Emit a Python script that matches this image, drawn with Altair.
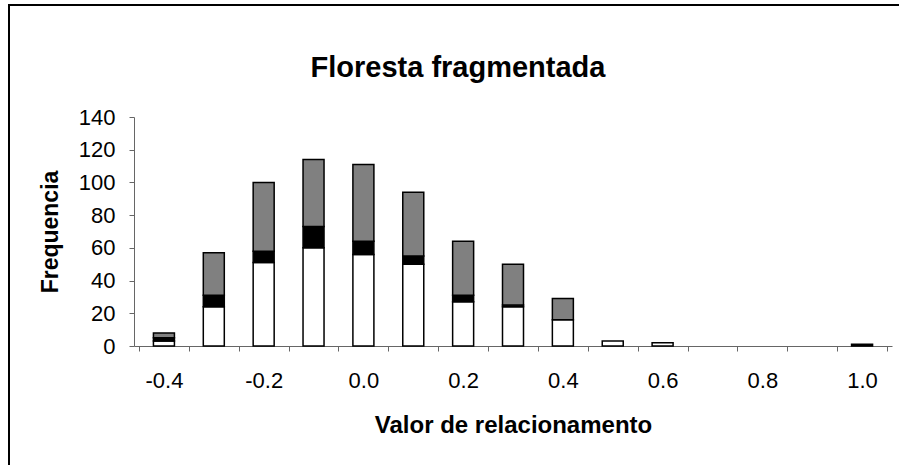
import altair as alt
import pandas as pd

# ---- data ----
categories = [-0.4, -0.3, -0.2, -0.1, 0.0, 0.1, 0.2, 0.3, 0.4, 0.5, 0.6, 0.7, 0.8, 0.9, 1.0]
white_vals = [3, 24, 51, 60, 56, 50, 27, 24, 16, 3, 2, 0, 0, 0, 0]
black_vals = [2, 7, 7, 13, 8, 5, 4, 1, 0, 0, 0, 0, 0, 0, 1]
gray_vals = [3, 26, 42, 41, 47, 39, 33, 25, 13, 0, 0, 0, 0, 0, 0]
segments = ["branco", "preto", "cinza"]
seg_colors = ["#ffffff", "#000000", "#808080"]
tick_bounds = [round(-0.45 + 0.1 * i, 2) for i in range(16)]
label_vals = [-0.4, -0.2, 0.0, 0.2, 0.4, 0.6, 0.8, 1.0]
y_ticks = [0, 20, 40, 60, 80, 100, 120, 140]
title_text = "Floresta fragmentada"

rows = []
for seg_i, (seg, vals) in enumerate(zip(segments, [white_vals, black_vals, gray_vals])):
    for c, v in zip(categories, vals):
        if v > 0:
            rows.append({"valor": c, "freq": v, "seg": seg, "ord": seg_i})
df = pd.DataFrame(rows)

FONT = "Liberation Sans"
W, H = 758, 229
LEFT, TOP = 134, 117

xscale = alt.Scale(domain=[-0.45, 1.05], nice=False, zero=False)
yscale = alt.Scale(domain=[0, 140], nice=False)

bars = alt.Chart(df).mark_bar(size=21, stroke="black", strokeWidth=1.5).encode(
    x=alt.X("valor:Q", scale=xscale,
            axis=alt.Axis(values=tick_bounds, labels=False, title=None, orient="bottom",
                          tickSize=5, tickColor="#666666", domainColor="#666666",
                          grid=False, tickWidth=1)),
    y=alt.Y("freq:Q", stack="zero", scale=yscale,
            axis=alt.Axis(values=y_ticks, title="Frequencia", grid=False,
                          tickSize=5, tickColor="#666666", domainColor="#666666",
                          labelFont=FONT, labelFontSize=22, labelColor="black",
                          labelPadding=14,
                          titleFont=FONT, titleFontSize=23, titleFontWeight="bold",
                          titleColor="black", titleAngle=-90, titleX=-84, titleY=114.5,
                          titleAlign="center", titleBaseline="middle")),
    color=alt.Color("seg:N", scale=alt.Scale(domain=segments, range=seg_colors), legend=None),
    order=alt.Order("ord:Q", sort="ascending"),
)

labels_layer = alt.Chart(df).mark_bar(opacity=0).encode(
    x=alt.X("valor:Q", scale=xscale,
            axis=alt.Axis(values=label_vals, orient="bottom", ticks=False, tickSize=0,
                          domain=False, grid=False,
                          labelExpr="replace(format(datum.value, '.1f'), '\u2212', '-')",
                          labelFont=FONT, labelFontSize=22, labelColor="black",
                          labelPadding=24,
                          title="Valor de relacionamento", titleFont=FONT, titleFontSize=24,
                          titleFontWeight="bold", titleColor="black",
                          titleX=379, titleY=79, titleAlign="center", titleBaseline="middle")),
)

frame = alt.Chart(pd.DataFrame({"a": [0]})).mark_rect(
    fill=None, stroke="black", strokeWidth=2
).encode(
    x=alt.value(9 - LEFT), x2=alt.value(905 - LEFT),
    y=alt.value(5 - TOP), y2=alt.value(480 - TOP),
)

title = alt.Chart(pd.DataFrame({"t": [title_text]})).mark_text(
    font=FONT, fontSize=29, fontWeight="bold", color="black",
    align="center", baseline="alphabetic"
).encode(
    text="t:N", x=alt.value(458 - LEFT), y=alt.value(77 - TOP),
)

chart = alt.layer(frame, title, bars, labels_layer).resolve_axis(x="independent").properties(
    width=W, height=H,
    autosize=alt.AutoSizeParams(type="none"),
    padding={"left": LEFT, "top": TOP, "right": 899 - LEFT - W, "bottom": 465 - TOP - H},
).configure(background="white", view=alt.ViewConfig(stroke=None))

chart.save("out.html", embed_options={"renderer": "svg", "actions": False})
